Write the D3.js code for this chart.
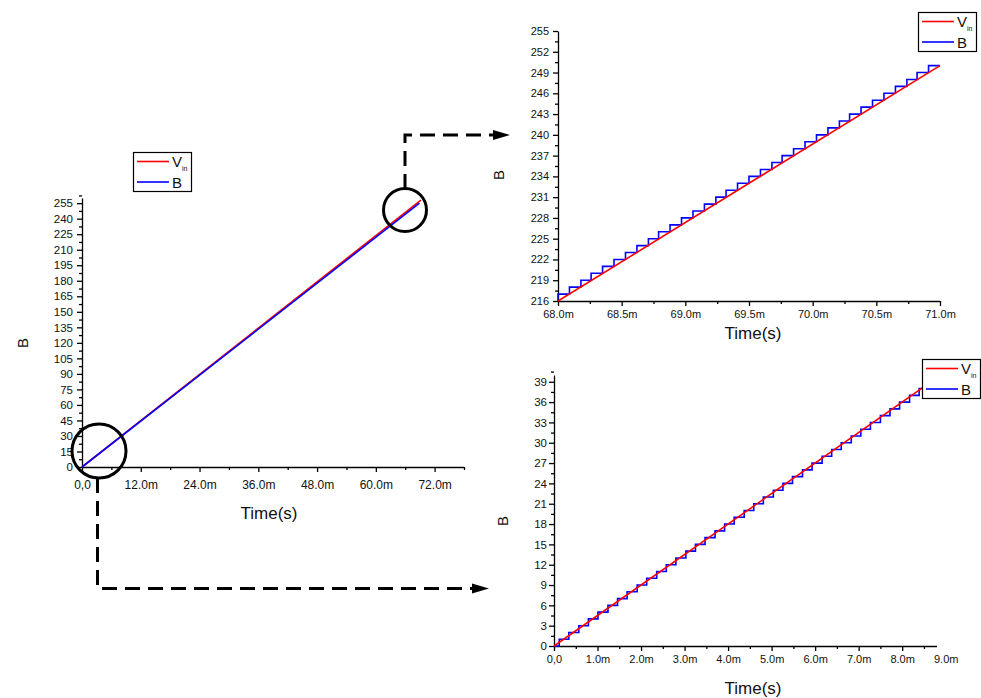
<!DOCTYPE html>
<html>
<head>
<meta charset="utf-8">
<script src="https://cdn.jsdelivr.net/npm/d3@7"></script>
<style>
  body { margin: 0; background: #fff; }
  svg { display: block; font-family: "Liberation Sans", Arial, sans-serif; }
  .axis path, .axis line { stroke: #000; stroke-width: 1.3; }
  .axis text { fill: #111; }
</style>
</head>
<body>
<svg id="chart" width="981" height="698"></svg>
<script>
// ---------- DATA ----------
// Overview chart (full ramp)
const mainVinT = [0, 69.2];
const mainVinV = [0, 258];
const mainBT = [0, 68.9];
const mainBV = [0, 255];
const mainXTicks = [0, 12, 24, 36, 48, 60, 72];
const mainYTicks = [0, 15, 30, 45, 60, 75, 90, 105, 120, 135, 150, 165, 180, 195, 210, 225, 240, 255];

// Zoom near the end of the ramp (68 ms – 71 ms)
const topVinT = [68.0, 71.0];
const topVinV = [216, 250];
const topBT = [68.00, 68.00, 68.09, 68.18, 68.26, 68.35, 68.44, 68.53, 68.62, 68.71, 68.79,
               68.88, 68.97, 69.06, 69.15, 69.24, 69.32, 69.41, 69.50, 69.59, 69.68,
               69.76, 69.85, 69.94, 70.03, 70.12, 70.21, 70.29, 70.38, 70.47, 70.56,
               70.65, 70.74, 70.82, 70.91, 71.00];
const topBV = [216, 217, 218, 219, 220, 221, 222, 223, 224, 225, 226,
               227, 228, 229, 230, 231, 232, 233, 234, 235, 236,
               237, 238, 239, 240, 241, 242, 243, 244, 245, 246,
               247, 248, 249, 250, 250];
const topXTicks = [68.0, 68.5, 69.0, 69.5, 70.0, 70.5, 71.0];
const topYTicks = [216, 219, 222, 225, 228, 231, 234, 237, 240, 243, 246, 249, 252, 255];

// Zoom near the start of the ramp (0 – 9 ms)
const botVinT = [0, 8.8];
const botVinV = [0, 39.6];
const botBT = [0, 0.12, 0.34, 0.57, 0.79, 1.01, 1.24, 1.46, 1.68, 1.91, 2.13,
               2.36, 2.58, 2.80, 3.03, 3.25, 3.47, 3.70, 3.92, 4.14, 4.37,
               4.59, 4.81, 5.04, 5.26, 5.48, 5.71, 5.93, 6.16, 6.38, 6.60,
               6.83, 7.05, 7.27, 7.50, 7.72, 7.94, 8.17, 8.39, 8.61, 8.80];
const botBV = [0, 1, 2, 3, 4, 5, 6, 7, 8, 9, 10,
               11, 12, 13, 14, 15, 16, 17, 18, 19, 20,
               21, 22, 23, 24, 25, 26, 27, 28, 29, 30,
               31, 32, 33, 34, 35, 36, 37, 38, 39, 39];
const botXTicks = [0, 1, 2, 3, 4, 5, 6, 7, 8, 9];
const botYTicks = [0, 3, 6, 9, 12, 15, 18, 21, 24, 27, 30, 33, 36, 39];

const seriesNames = ["V", "B"];
const seriesColors = ["#ff0000", "#0000ff"];
const xTitle = "Time(s)";
const yTitle = "B";

// ---------- DRAWING ----------
const svg = d3.select("#chart");
const FONT = '"Liberation Sans", Arial, sans-serif';

function zip(ts, vs) { return ts.map((t, i) => ({ t: t, v: vs[i] })); }

function fmtMs(t) { return t === 0 ? "0,0" : t.toFixed(1) + "m"; }

function drawPanel(cfg) {
  const g = svg.append("g");
  const x = d3.scaleLinear().domain(cfg.xDomain).range(cfg.xRange);
  const y = d3.scaleLinear().domain(cfg.yDomain).range(cfg.yRange);
  const y0 = cfg.yRange[0], x0 = cfg.xRange[0];

  // minor ticks
  g.append("g").attr("class", "axis").attr("transform", `translate(0,${y0})`)
    .call(d3.axisBottom(x).tickValues(cfg.xMinor).tickSize(3).tickFormat(""))
    .call(s => s.select(".domain").remove());
  g.append("g").attr("class", "axis").attr("transform", `translate(${x0},0)`)
    .call(d3.axisLeft(y).tickValues(cfg.yMinor).tickSize(3).tickFormat(""))
    .call(s => s.select(".domain").remove());

  // major axes
  const xa = g.append("g").attr("class", "axis").attr("transform", `translate(0,${y0})`)
    .call(d3.axisBottom(x).tickValues(cfg.xTicks).tickSize(5).tickSizeOuter(0)
      .tickPadding(cfg.xPad).tickFormat(cfg.xFmt));
  xa.selectAll("text").style("font-size", cfg.xFont + "px").style("font-family", FONT);
  xa.select(".domain").attr("d", `M${cfg.xRange[0]},0.5H${cfg.xRange[1]}`);
  if (cfg.hideTickBeyond) {
    xa.selectAll(".tick").filter(d => d > cfg.xDomain[1]).select("line").remove();
  }
  const ya = g.append("g").attr("class", "axis").attr("transform", `translate(${x0},0)`)
    .call(d3.axisLeft(y).tickValues(cfg.yTicks).tickSize(5).tickSizeOuter(0)
      .tickPadding(cfg.yPad));
  ya.selectAll("text").style("font-size", cfg.yFont + "px").style("font-family", FONT);

  // axis titles
  g.append("text").attr("x", cfg.xTitlePos[0]).attr("y", cfg.xTitlePos[1])
    .attr("text-anchor", "middle").style("font-size", "17px").style("font-family", FONT)
    .attr("fill", "#111").text(xTitle);
  g.append("text")
    .attr("transform", `translate(${cfg.yTitlePos[0]},${cfg.yTitlePos[1]}) rotate(-90)`)
    .attr("text-anchor", "middle").style("font-size", "15px").style("font-family", FONT)
    .attr("fill", "#111").text(yTitle);

  // series
  const straight = d3.line().x(d => x(d.t)).y(d => y(d.v));
  const stepped = d3.line().x(d => x(d.t)).y(d => y(d.v)).curve(d3.curveStepAfter);
  const vinPath = () => g.append("path").datum(zip(cfg.vinT, cfg.vinV))
      .attr("d", straight).attr("fill", "none")
      .attr("stroke", seriesColors[0]).attr("stroke-width", 1.6);
  const bPath = () => g.append("path").datum(zip(cfg.bT, cfg.bV))
      .attr("d", cfg.bStep ? stepped : straight).attr("fill", "none")
      .attr("stroke", seriesColors[1]).attr("stroke-width", 1.6);
  if (cfg.bOnTop) { vinPath(); bPath(); } else { bPath(); vinPath(); }

  // legend
  const L = cfg.legend;
  const lg = svg.append("g").attr("transform", `translate(${L[0]},${L[1]})`);
  lg.append("rect").attr("x", 0.5).attr("y", 0.5).attr("width", 58).attr("height", 39)
    .attr("fill", "#fff").attr("stroke", "#000").attr("stroke-width", 1.2);
  lg.append("line").attr("x1", 4).attr("x2", 36).attr("y1", 9.5).attr("y2", 9.5)
    .attr("stroke", seriesColors[0]).attr("stroke-width", 1.6);
  lg.append("line").attr("x1", 4).attr("x2", 36).attr("y1", 30).attr("y2", 30)
    .attr("stroke", seriesColors[1]).attr("stroke-width", 1.6);
  const vt = lg.append("text").attr("x", 39).attr("y", 15).style("font-size", "15px")
    .style("font-family", FONT).attr("fill", "#111");
  vt.append("tspan").text(seriesNames[0]);
  vt.append("tspan").attr("dy", 4).style("font-size", "7px").text("in");
  lg.append("text").attr("x", 39).attr("y", 35.5).style("font-size", "15px")
    .style("font-family", FONT).attr("fill", "#111").text(seriesNames[1]);
}

const xfmtTop = t => t.toFixed(1) + "m";

// Overview
drawPanel({
  xDomain: [0, 78], xRange: [82, 464],
  yDomain: [0, 260], yRange: [467, 198],
  xTicks: mainXTicks, xMinor: [6, 18, 30, 42, 54, 66, 78],
  yTicks: mainYTicks, yMinor: mainYTicks.map(v => v + 7.5),
  xFmt: fmtMs, xFont: 12, yFont: 11.5, xPad: 8, yPad: 4,
  xTitlePos: [269, 519], yTitlePos: [28, 343],
  vinT: mainVinT, vinV: mainVinV, bT: mainBT, bV: mainBV, bStep: false, bOnTop: true,
  legend: [133, 152]
});

// Top-right zoom
drawPanel({
  xDomain: [68, 71], xRange: [558, 940],
  yDomain: [216, 255], yRange: [301, 31],
  xTicks: topXTicks, xMinor: [68.25, 68.75, 69.25, 69.75, 70.25, 70.75],
  yTicks: topYTicks, yMinor: topYTicks.slice(0, -1).map(v => v + 1.5),
  xFmt: xfmtTop, xFont: 11, yFont: 11, xPad: 4, yPad: 4,
  xTitlePos: [753, 339], yTitlePos: [504, 175],
  vinT: topVinT, vinV: topVinV, bT: topBT, bV: topBV, bStep: true, bOnTop: false,
  legend: [918, 12]
});

// Bottom-right zoom
drawPanel({
  xDomain: [0, 8.8], xRange: [554, 937],
  yDomain: [0, 40], yRange: [646, 375],
  xTicks: botXTicks, xMinor: [0.5, 1.5, 2.5, 3.5, 4.5, 5.5, 6.5, 7.5, 8.5],
  yTicks: botYTicks, yMinor: botYTicks.map(v => v + 1.5),
  xFmt: fmtMs, xFont: 11, yFont: 11.5, xPad: 4, yPad: 2,
  xTitlePos: [753, 694], yTitlePos: [508, 521],
  vinT: botVinT, vinV: botVinV, bT: botBT, bV: botBV, bStep: true, bOnTop: false,
  legend: [922, 359], hideTickBeyond: true
});

// ---------- ANNOTATIONS (circles + dashed arrows) ----------
const ann = svg.append("g");
ann.append("circle").attr("cx", 99).attr("cy", 451).attr("r", 27)
  .attr("fill", "none").attr("stroke", "#000").attr("stroke-width", 3);
ann.append("circle").attr("cx", 405).attr("cy", 210).attr("r", 21.5)
  .attr("fill", "none").attr("stroke", "#000").attr("stroke-width", 3);

function dashedArrow(pts) {
  const last = pts[pts.length - 1];
  const path = pts.slice(0, -1).map((p, i) => (i ? "L" : "M") + p[0] + "," + p[1]).join("")
    + "L" + (last[0] - 14) + "," + last[1];
  ann.append("path").attr("d", path).attr("fill", "none").attr("stroke", "#000")
    .attr("stroke-width", 3).attr("stroke-dasharray", "15,8");
  ann.append("path")
    .attr("d", `M${last[0]},${last[1]}L${last[0] - 17},${last[1] - 5}L${last[0] - 17},${last[1] + 5}Z`)
    .attr("fill", "#000");
}
dashedArrow([[405, 189], [405, 135], [510, 135]]);
dashedArrow([[97.5, 478], [97.5, 588.5], [489, 588.5]]);
</script>
</body>
</html>
